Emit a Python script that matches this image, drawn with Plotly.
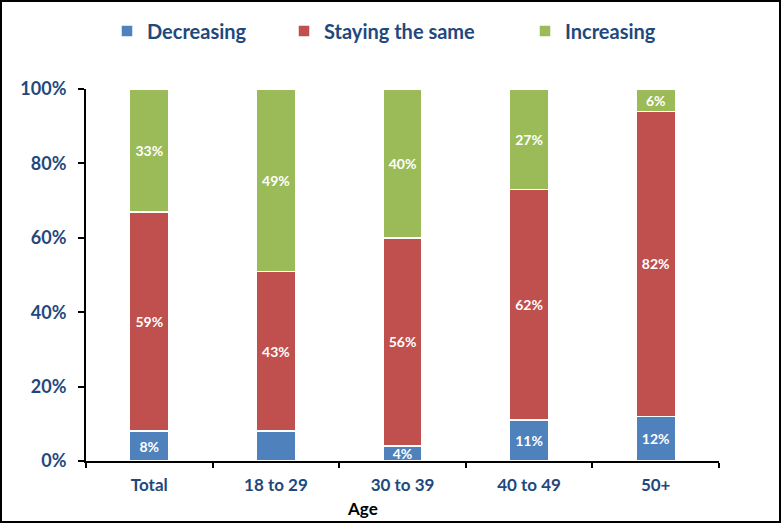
import plotly.graph_objects as go

categories = ["Total", "18 to 29", "30 to 39", "40 to 49", "50+"]
decreasing = [8, 8, 4, 11, 12]
staying_same = [59, 43, 56, 62, 82]
increasing = [33, 49, 40, 27, 6]
# which data labels are shown in the original (18 to 29 "Decreasing" has none)
show_decreasing_label = [True, False, True, True, True]

series_names = ["Decreasing", "Staying the same", "Increasing"]
colors = ["#4F81BD", "#C0504D", "#9BBB59"]
legend_ids = ["legend", "legend2", "legend3"]
legend_text_x = [147, 324, 565]  # pixel where each legend text begins

FONT = "Lato"
DARK_BLUE = "#1F497D"

L, R, T, B = 86, 62, 89, 62
W, H = 781, 523
PW, PH = W - L - R, H - T - B

def px_x(p):
    return (p - L) / PW

def px_y(p):
    return (H - B - p) / PH

def labels(values, show=None):
    out = []
    for i, v in enumerate(values):
        if show is not None and not show[i]:
            out.append("")
        else:
            out.append(f"{v}%")
    return out

fig = go.Figure()
for name, vals, col, show, lid in [
    (series_names[0], decreasing, colors[0], show_decreasing_label, legend_ids[0]),
    (series_names[1], staying_same, colors[1], None, legend_ids[1]),
    (series_names[2], increasing, colors[2], None, legend_ids[2]),
]:
    fig.add_trace(go.Bar(
        x=categories, y=vals, name=name, legend=lid,
        marker=dict(color=col, line=dict(color="white", width=1.5)),
        text=labels(vals, show), textposition="inside",
        insidetextanchor="middle", textangle=0,
        constraintext="none",
        textfont=dict(family=FONT, size=14, color="white", weight="bold"),
        width=0.31,
        hoverinfo="skip",
    ))

legend_common = dict(
    orientation="h", yanchor="middle", y=px_y(31), xanchor="left",
    font=dict(family=FONT, size=20, color=DARK_BLUE, weight="bold"),
    bgcolor="rgba(0,0,0,0)",
)

fig.update_layout(
    barmode="stack",
    width=W, height=H,
    margin=dict(l=L, r=R, t=T, b=B, autoexpand=False),
    plot_bgcolor="white", paper_bgcolor="white",
    showlegend=True,
    legend=dict(x=px_x(legend_text_x[0] - 40), **legend_common),
    legend2=dict(x=px_x(legend_text_x[1] - 40), **legend_common),
    legend3=dict(x=px_x(legend_text_x[2] - 40), **legend_common),
    xaxis=dict(
        type="category", tickson="boundaries", range=[-0.5, 4.5],
        showline=True, linecolor="black", linewidth=2,
        ticks="outside", ticklen=5, tickwidth=2, tickcolor="black",
        tickfont=dict(family=FONT, size=17, color=DARK_BLUE, weight="bold"),
        ticklabelstandoff=8,
        showgrid=False, automargin=False,
    ),
    yaxis=dict(
        range=[0, 100], dtick=20, ticksuffix="%",
        showline=True, linecolor="black", linewidth=2,
        ticks="outside", ticklen=6, tickwidth=2, tickcolor="black",
        tickfont=dict(family=FONT, size=18, color=DARK_BLUE, weight="bold"),
        ticklabelstandoff=8,
        showgrid=False, zeroline=False, automargin=False,
    ),
    annotations=[dict(
        text="Age", xref="paper", yref="paper",
        x=px_x(362), y=px_y(508),
        xanchor="center", yanchor="middle", showarrow=False,
        font=dict(family=FONT, size=17, color="black", weight="bold"),
    )],
    shapes=[dict(
        type="rect", xref="paper", yref="paper",
        x0=px_x(1), x1=px_x(780),
        y0=px_y(522), y1=px_y(1),
        line=dict(color="black", width=2), fillcolor="rgba(0,0,0,0)",
        layer="below",
    )],
)

fig.write_html("out.html", config={"displayModeBar": False, "staticPlot": True})

# remove the browser's default body margin so the figure sits at the page origin
with open("out.html", "r", encoding="utf-8") as f:
    html = f.read()
html = html.replace("<head>", "<head><style>html,body{margin:0;padding:0;overflow:hidden;}</style>", 1)
with open("out.html", "w", encoding="utf-8") as f:
    f.write(html)
